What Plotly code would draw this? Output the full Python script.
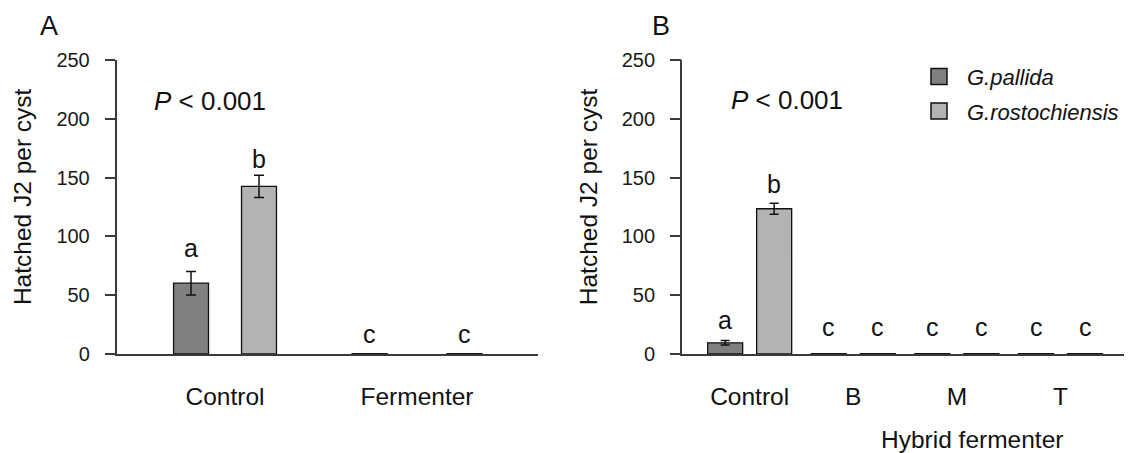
import plotly.graph_objects as go

# ---------------- data ----------------
groups_a = ["Control", "Fermenter"]
pallida_a = [60.2, 0.3]
pallida_a_err = [10.0, 0.0]
rosto_a = [142.6, 0.3]
rosto_a_err = [9.5, 0.0]
letters_a_pallida = ["a", "c"]
letters_a_rosto = ["b", "c"]

groups_b = ["Control", "B", "M", "T"]
pallida_b = [9.5, 0.3, 0.3, 0.3]
pallida_b_err = [1.9, 0.0, 0.0, 0.0]
rosto_b = [123.5, 0.3, 0.3, 0.3]
rosto_b_err = [4.6, 0.0, 0.0, 0.0]
letters_b_pallida = ["a", "c", "c", "c"]
letters_b_rosto = ["b", "c", "c", "c"]

series_names = ["G.pallida", "G.rostochiensis"]
y_ticks = [0, 50, 100, 150, 200, 250]
y_title = "Hatched J2 per cyst"
x_title_b = "Hybrid fermenter"
p_text = "<i>P</i> &lt; 0.001"

# ---------------- style ----------------
FONT = "Liberation Sans, Arial, sans-serif"
C_DARK = "#808080"
C_LIGHT = "#b3b3b3"
AX = "#3a3a3a"
W = 1132
H = 453
OX, OY = 8, 8            # page offset of the figure (body margin)
PLOT_TOP, PLOT_BOT = 60, 354   # page y of plot area
T_M = PLOT_TOP - OY
B_M = H - (PLOT_BOT - OY)


def px_x(p):
    return (p - OX) / W


def px_y(p):
    return (PLOT_BOT - p) / (PLOT_BOT - PLOT_TOP)


# panel geometry (group offsets / widths in axis units)
off_a = [0.177, 0.247]
bw_a = 0.182
off_b = [0.2365] * 4
bw_b = 0.338

# label gaps (px above error-bar top)
gap_a_p = [7.5, 4]
gap_a_r = [0.5, 4]
gap_b_p = [4.5, 11, 11, 11]
gap_b_r = [3, 11, 11, 11]

fig = go.Figure()


def add_panel(groups, p_vals, p_err, r_vals, r_err, offs, bw, xa, ya, capw):
    xs_p = [i - offs[i] for i in range(len(groups))]
    xs_r = [i + offs[i] for i in range(len(groups))]
    for xs, vals, errs, col in ((xs_p, p_vals, p_err, C_DARK), (xs_r, r_vals, r_err, C_LIGHT)):
        fig.add_trace(go.Bar(
            x=xs, y=vals, width=[bw] * len(xs),
            marker=dict(color=col, line=dict(color="#111111", width=1.3)),
            error_y=dict(type="data", array=errs, visible=True, color="#111111",
                         thickness=1.5, width=capw),
            showlegend=False, xaxis=xa, yaxis=ya, hoverinfo="skip"))
    return xs_p, xs_r


xpa, xra = add_panel(groups_a, pallida_a, pallida_a_err, rosto_a, rosto_a_err, off_a, bw_a, "x", "y", 5)
xpb, xrb = add_panel(groups_b, pallida_b, pallida_b_err, rosto_b, rosto_b_err, off_b, bw_b, "x2", "y2", 4.5)

# legend entries
for name, col, grp in ((series_names[0], C_DARK, "g1"), (series_names[1], C_LIGHT, "g2")):
    fig.add_trace(go.Scatter(
        x=[None], y=[None], mode="markers", name=name, legendgroup=grp,
        marker=dict(symbol="square", size=16, color=col, line=dict(color="#111111", width=1.5)),
        xaxis="x2", yaxis="y2"))

annotations = []


def letters(xs, vals, errs, labs, gaps, xref, yref):
    for x, v, e, l, g in zip(xs, vals, errs, labs, gaps):
        annotations.append(dict(
            x=x, y=v + e, xref=xref, yref=yref, text=l, showarrow=False,
            xanchor="center", yanchor="bottom", yshift=g,
            font=dict(family=FONT, size=25, color="#111111")))


letters(xpa, pallida_a, pallida_a_err, letters_a_pallida, gap_a_p, "x", "y")
letters(xra, rosto_a, rosto_a_err, letters_a_rosto, gap_a_r, "x", "y")
letters(xpb, pallida_b, pallida_b_err, letters_b_pallida, gap_b_p, "x2", "y2")
letters(xrb, rosto_b, rosto_b_err, letters_b_rosto, gap_b_r, "x2", "y2")

# panel letters, p-values, titles
for txt, px, py in (("A", 38, 26.5), ("B", 650, 25.8)):
    annotations.append(dict(x=px_x(px), y=px_y(py), xref="paper", yref="paper", text=txt,
                            showarrow=False, xanchor="left", yanchor="middle",
                            font=dict(family=FONT, size=27, color="#111111")))
for px, py in ((152, 101), (729, 99.7)):
    annotations.append(dict(x=px_x(px), y=px_y(py), xref="paper", yref="paper", text=p_text,
                            showarrow=False, xanchor="left", yanchor="middle",
                            font=dict(family=FONT, size=26, color="#111111")))
for px in (22.4, 588.5):
    annotations.append(dict(x=px_x(px), y=px_y(196.7), xref="paper", yref="paper", text=y_title,
                            showarrow=False, textangle=-90, xanchor="center", yanchor="middle",
                            font=dict(family=FONT, size=24.5, color="#111111")))
annotations.append(dict(x=px_x(972), y=px_y(439), xref="paper", yref="paper", text=x_title_b,
                        showarrow=False, xanchor="center", yanchor="middle",
                        font=dict(family=FONT, size=24.5, color="#111111")))

yaxis_common = dict(range=[0, 250], tickvals=y_ticks, showline=True, linecolor=AX, linewidth=1.5,
                    ticks="outside", ticklen=10.5, tickcolor=AX, tickwidth=1.5,
                    showgrid=False, zeroline=False, ticklabelstandoff=11,
                    tickfont=dict(family=FONT, size=20, color="#1a1a1a"))
xaxis_common = dict(showline=True, linecolor=AX, linewidth=1.5, ticks="", showgrid=False,
                    zeroline=False, ticklabelstandoff=20,
                    tickfont=dict(family=FONT, size=24.5, color="#111111"))

fig.update_layout(
    width=W, height=H,
    margin=dict(l=0, r=0, t=T_M, b=B_M, pad=0),
    paper_bgcolor="white", plot_bgcolor="white",
    barmode="overlay",
    xaxis=dict(domain=[px_x(117), px_x(538)], range=[-0.5625, 1.630],
               tickvals=list(range(len(groups_a))), ticktext=groups_a, **xaxis_common),
    yaxis=dict(anchor="x", **yaxis_common),
    xaxis2=dict(domain=[px_x(682.3), px_x(1132)], range=[-0.65, 3.69], anchor="y2",
                tickvals=list(range(len(groups_b))), ticktext=groups_b, **xaxis_common),
    yaxis2=dict(anchor="x2", **yaxis_common),
    legend=dict(x=px_x(911), y=px_y(55.6), xanchor="left", yanchor="top",
                bgcolor="rgba(0,0,0,0)", tracegroupgap=3, itemwidth=46,
                font=dict(family=FONT, size=22, color="#111111", style="italic")),
    annotations=annotations,
)

fig.write_html("out.html")
